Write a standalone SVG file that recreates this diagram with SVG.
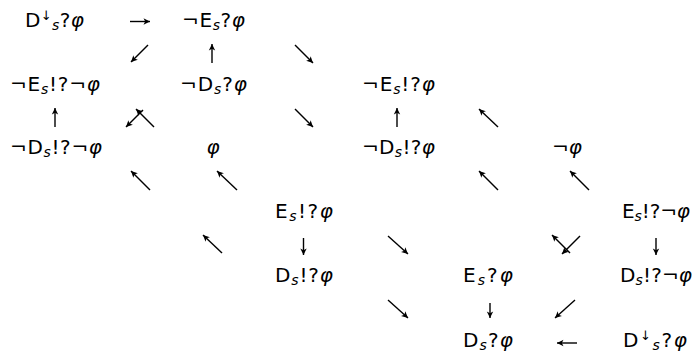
<svg xmlns="http://www.w3.org/2000/svg" width="696" height="353" viewBox="0 0 696 353">
<style>
text{font-family:"DejaVu Sans","Liberation Sans",sans-serif;font-size:20px;fill:#000}
.sub{font-size:14px;font-style:italic}
.sup{font-size:13px}
.it{font-style:italic}
.ar{stroke:#000;stroke-width:1.4;fill:none;marker-end:url(#h)}
</style>
<defs>
<marker id="h" markerUnits="userSpaceOnUse" markerWidth="8" markerHeight="8" viewBox="0 0 8 8" refX="7" refY="4" orient="auto">
<path d="M0.5,0.8 L7,4 L0.5,7.2 L2.2,4 z" fill="#000"/>
</marker>
</defs>
<rect width="696" height="353" fill="#fff"/>
<g id="nodes">
<g id="n1"><text x="25" y="27" textLength="59" lengthAdjust="spacing">D<tspan class="sup" dy="-7">↓</tspan><tspan class="sub" dy="10">s</tspan><tspan dy="-3">?</tspan><tspan class="it">φ</tspan></text></g>
<g id="n2"><text x="182" y="27" textLength="63" lengthAdjust="spacing">¬E<tspan class="sub" dy="3">s</tspan><tspan dy="-3">?</tspan><tspan class="it">φ</tspan></text></g>
<g id="n3"><text x="10" y="91" textLength="90" lengthAdjust="spacing">¬E<tspan class="sub" dy="3">s</tspan><tspan dy="-3">!?¬</tspan><tspan class="it">φ</tspan></text></g>
<g id="n4"><text x="180" y="91" textLength="67" lengthAdjust="spacing">¬D<tspan class="sub" dy="3">s</tspan><tspan dy="-3">?</tspan><tspan class="it">φ</tspan></text></g>
<g id="n5"><text x="362" y="91" textLength="73" lengthAdjust="spacing">¬E<tspan class="sub" dy="3">s</tspan><tspan dy="-3">!?</tspan><tspan class="it">φ</tspan></text></g>
<g id="n6"><text x="10" y="154" textLength="92" lengthAdjust="spacing">¬D<tspan class="sub" dy="3">s</tspan><tspan dy="-3">!?¬</tspan><tspan class="it">φ</tspan></text></g>
<g id="n7"><text x="213" y="154" text-anchor="middle" class="it">φ</text></g>
<g id="n8"><text x="362" y="154" textLength="73" lengthAdjust="spacing">¬D<tspan class="sub" dy="3">s</tspan><tspan dy="-3">!?</tspan><tspan class="it">φ</tspan></text></g>
<g id="n9"><text x="552" y="154" textLength="30" lengthAdjust="spacing">¬<tspan class="it">φ</tspan></text></g>
<g id="n10"><text x="275" y="218" textLength="58" lengthAdjust="spacing">E<tspan class="sub" dy="3">s</tspan><tspan dy="-3">!?</tspan><tspan class="it">φ</tspan></text></g>
<g id="n11"><text x="622" y="218" textLength="68" lengthAdjust="spacing">E<tspan class="sub" dy="3">s</tspan><tspan dy="-3">!?¬</tspan><tspan class="it">φ</tspan></text></g>
<g id="n12"><text x="275" y="282" textLength="58" lengthAdjust="spacing">D<tspan class="sub" dy="3">s</tspan><tspan dy="-3">!?</tspan><tspan class="it">φ</tspan></text></g>
<g id="n13"><text x="463" y="282" textLength="50" lengthAdjust="spacing">E<tspan class="sub" dy="3">s</tspan><tspan dy="-3">?</tspan><tspan class="it">φ</tspan></text></g>
<g id="n14"><text x="620" y="282" textLength="72" lengthAdjust="spacing">D<tspan class="sub" dy="3">s</tspan><tspan dy="-3">!?¬</tspan><tspan class="it">φ</tspan></text></g>
<g id="n15"><text x="463" y="347" textLength="50" lengthAdjust="spacing">D<tspan class="sub" dy="3">s</tspan><tspan dy="-3">?</tspan><tspan class="it">φ</tspan></text></g>
<g id="n16"><text x="623" y="347" textLength="64" lengthAdjust="spacing">D<tspan class="sup" dy="-7">↓</tspan><tspan class="sub" dy="10">s</tspan><tspan dy="-3">?</tspan><tspan class="it">φ</tspan></text></g>
</g>
<g id="connectors">
<line class="ar" x1="130" y1="21.5" x2="150" y2="21.5"/>
<line class="ar" x1="148" y1="45" x2="131" y2="62"/>
<line class="ar" x1="212" y1="63" x2="212" y2="44"/>
<line class="ar" x1="295" y1="45" x2="313" y2="63"/>
<line class="ar" x1="55" y1="127" x2="55" y2="108"/>
<line class="ar" x1="143" y1="110" x2="126" y2="127"/>
<line class="ar" x1="154" y1="127" x2="136" y2="109"/>
<line class="ar" x1="295" y1="109" x2="313" y2="127"/>
<line class="ar" x1="397" y1="127" x2="397" y2="108"/>
<line class="ar" x1="498" y1="127" x2="479" y2="109"/>
<line class="ar" x1="150" y1="190" x2="131" y2="171"/>
<line class="ar" x1="237" y1="190" x2="217" y2="171"/>
<line class="ar" x1="498" y1="190" x2="479" y2="171"/>
<line class="ar" x1="589" y1="190" x2="570" y2="171"/>
<line class="ar" x1="222" y1="253" x2="203" y2="235"/>
<line class="ar" x1="303.5" y1="238" x2="303.5" y2="255"/>
<line class="ar" x1="388" y1="236" x2="408" y2="254"/>
<line class="ar" x1="570" y1="253" x2="552" y2="235"/>
<line class="ar" x1="580" y1="236" x2="562" y2="254"/>
<line class="ar" x1="656" y1="238" x2="656" y2="255"/>
<line class="ar" x1="388" y1="300" x2="408" y2="318"/>
<line class="ar" x1="490" y1="303" x2="490" y2="318"/>
<line class="ar" x1="575" y1="300" x2="555" y2="318"/>
<line class="ar" x1="577" y1="343" x2="557" y2="343"/>
</g>
</svg>
